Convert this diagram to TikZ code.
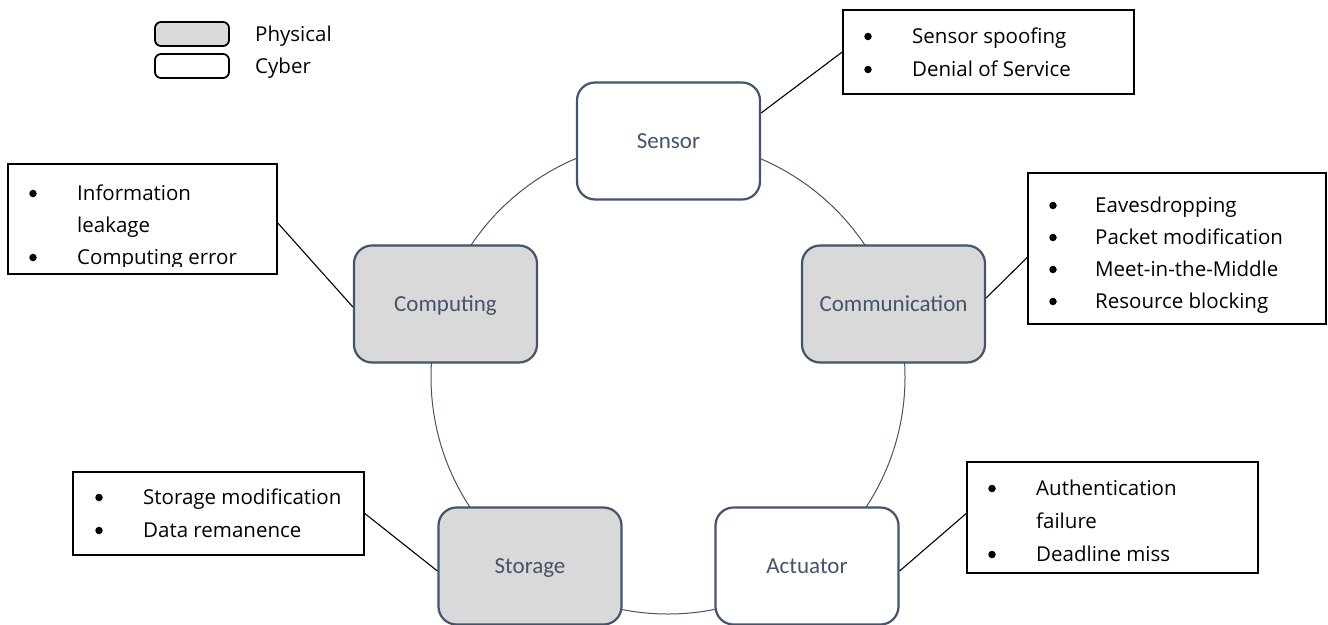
\documentclass[tikz,border=0pt]{standalone}
\usepackage{fontspec}
\setmainfont{Open Sans}
\newfontfamily\labelfont{Carlito}
\usetikzlibrary{calc}
\definecolor{slate}{HTML}{44546A}
\definecolor{physfill}{HTML}{D9D9D9}
\begin{document}
\begin{tikzpicture}[x=1pt,y=-1pt,
  comp/.style={draw=slate, line width=2.2pt, rounded corners=18pt,
    minimum width=183pt, minimum height=117pt, inner sep=0pt,
    text height=14.8pt, text depth=0pt,
    font=\labelfont\fontsize{23}{27}\selectfont, text=slate},
  phys/.style={comp, fill=physfill},
  cyber/.style={comp, fill=white},
  threatbox/.style={draw=black, line width=1.6pt, fill=white, inner sep=0pt},
  item/.style={anchor=base west, inner sep=0pt, font=\fontsize{20.5}{24}\selectfont},
  dot/.style={circle, fill=black, inner sep=0pt, minimum size=7.5pt, yshift=6.5pt},
  link/.style={draw=black, line width=1.1pt},
  ring/.style={draw=slate, line width=1pt},
  legendbox/.style={draw=black, line width=1.8pt, rounded corners=6pt,
    minimum width=74pt, minimum height=24pt, inner sep=0pt},
]
\useasboundingbox (0,0) rectangle (1328,624);

% ring joining the five components
\draw[ring] (668,377) circle[radius=237pt];

% components
\node[cyber] (sensor)    at (668.5,141) {Sensor};
\node[phys]  (computing) at (445.5,304) {Computing};
\node[phys]  (comm)      at (893.5,304) {Communication};
\node[phys]  (storage)   at (530,566)   {Storage};
\node[cyber] (actuator)  at (807,566)   {Actuator};

% legend
\node[legendbox, fill=physfill] (legphys)  at (192,34) {};
\node[legendbox, fill=white]    (legcyber) at (192,66) {};
\node[item] (legphystext)  at (255,41) {Physical};
\node[item] (legcybertext) at (255,73) {Cyber};

% threat lists (a dot sits 6.5pt above the baseline of its line)
\node[threatbox, minimum width=291pt, minimum height=84pt]  (sbox) at (988.5,52)   {};
\node[dot]  (sdot1) at (868,43) {};
\node[item] (stxt1) at (912,43) {Sensor spoofing};
\node[dot]  (sdot2) at (868,76) {};
\node[item] (stxt2) at (912,76) {Denial of Service};

\node[threatbox, minimum width=269pt, minimum height=110pt] (cbox) at (142.5,219)  {};
\begin{scope}
  % the last line runs past the text frame and is cut at its lower edge
  \clip (cbox.north west) rectangle ($(cbox.south east)+(0,-8)$);
  \node[dot]  (cdot1) at (33,200) {};
  \node[item] (ctxt1) at (77,200) {Information};
  \node[item] (ctxt1b) at (77,232) {leakage};
  \node[dot]  (cdot2) at (33,264) {};
  \node[item] (ctxt2) at (77,264) {Computing error};
\end{scope}

\node[threatbox, minimum width=298pt, minimum height=151pt] (mbox) at (1177,248.5) {};
\node[dot]  (mdot1) at (1053,212) {};
\node[item] (mtxt1) at (1095,212) {Eavesdropping};
\node[dot]  (mdot2) at (1053,244) {};
\node[item] (mtxt2) at (1095,244) {Packet modification};
\node[dot]  (mdot3) at (1053,276) {};
\node[item] (mtxt3) at (1095,276) {Meet-in-the-Middle};
\node[dot]  (mdot4) at (1053,308) {};
\node[item] (mtxt4) at (1095,308) {Resource blocking};

\node[threatbox, minimum width=291pt, minimum height=83pt]  (tbox) at (218.5,513.5) {};
\node[dot]  (tdot1) at (99,504) {};
\node[item] (ttxt1) at (143,504) {Storage modification};
\node[dot]  (tdot2) at (99,537) {};
\node[item] (ttxt2) at (143,537) {Data remanence};

\node[threatbox, minimum width=291pt, minimum height=111pt] (abox) at (1112.5,517.5) {};
\node[dot]  (adot1) at (992,495) {};
\node[item] (atxt1) at (1036,495) {Authentication};
\node[item] (atxt1b) at (1036,528) {failure};
\node[dot]  (adot2) at (992,561) {};
\node[item] (atxt2) at (1036,561) {Deadline miss};

% connectors from components to their threat lists
\draw[link] ($(sensor.east)+(0,-28)$) -- (sbox.west);
\draw[link] ($(computing.west)+(0,3)$) -- ($(cbox.east)+(0,4)$);
\draw[link] ($(comm.east)+(0,-6)$) -- ($(mbox.west)+(0,9)$);
\draw[link] ($(storage.west)+(0,5)$) -- (tbox.east);
\draw[link] ($(actuator.east)+(0,5)$) -- ($(abox.west)+(0,-4)$);
\end{tikzpicture}
\end{document}
